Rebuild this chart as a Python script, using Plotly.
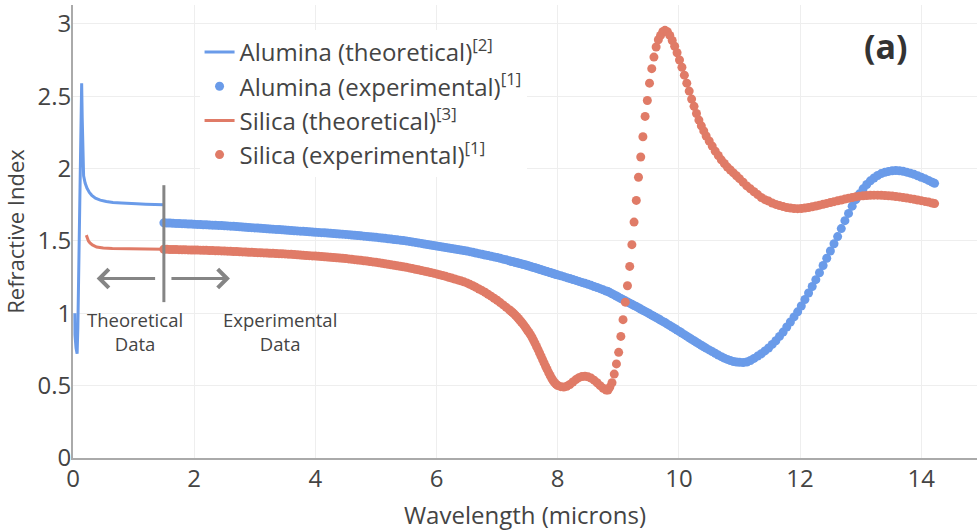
import plotly.graph_objects as go

# ---------------- data ----------------
wavelength_alumina_theo = [0.030, 0.033, 0.05, 0.068, 0.08, 0.10, 0.12, 0.135, 0.143, 0.152,
                           0.162, 0.175, 0.20, 0.23, 0.27, 0.31, 0.37, 0.45, 0.55, 0.66,
                           0.8, 0.95, 1.05, 1.2, 1.35, 1.5]
alumina_theo = [1.00, 0.85, 0.76, 0.72, 0.90, 1.45, 2.05, 2.45, 2.59, 2.35,
                2.05, 1.95, 1.90, 1.865, 1.835, 1.815, 1.795, 1.782, 1.772, 1.765,
                1.762, 1.757, 1.757, 1.754, 1.751, 1.75]

wavelength_silica_theo = [0.22, 0.235, 0.255, 0.28, 0.32, 0.39, 0.5, 0.65, 0.9, 1.2, 1.5]
silica_theo = [1.54, 1.52, 1.50, 1.486, 1.472, 1.458, 1.451, 1.447, 1.445, 1.444, 1.443]

wavelength_exp = [
    1.50, 1.55, 1.60, 1.65, 1.70, 1.75, 1.80, 1.85, 1.90, 1.95,
    2.00, 2.05, 2.10, 2.15, 2.20, 2.25, 2.30, 2.35, 2.40, 2.45,
    2.50, 2.55, 2.60, 2.65, 2.70, 2.75, 2.80, 2.85, 2.90, 2.95,
    3.00, 3.05, 3.10, 3.15, 3.20, 3.25, 3.30, 3.35, 3.40, 3.45,
    3.50, 3.55, 3.60, 3.65, 3.70, 3.75, 3.80, 3.85, 3.90, 3.95,
    4.00, 4.05, 4.10, 4.15, 4.20, 4.25, 4.30, 4.35, 4.40, 4.45,
    4.50, 4.55, 4.60, 4.65, 4.70, 4.75, 4.80, 4.85, 4.90, 4.95,
    5.00, 5.05, 5.10, 5.15, 5.20, 5.25, 5.30, 5.35, 5.40, 5.45,
    5.50, 5.55, 5.60, 5.65, 5.70, 5.75, 5.80, 5.85, 5.90, 5.95,
    6.00, 6.05, 6.10, 6.15, 6.20, 6.25, 6.30, 6.35, 6.40, 6.45,
    6.50, 6.55, 6.60, 6.65, 6.70, 6.75, 6.80, 6.85, 6.90, 6.95,
    7.00, 7.05, 7.10, 7.15, 7.20,
    7.225, 7.25, 7.275, 7.3, 7.325, 7.35, 7.375, 7.4,
    7.425, 7.45, 7.475, 7.5, 7.525, 7.55, 7.575, 7.6,
    7.625, 7.65, 7.675, 7.7, 7.725, 7.75, 7.775, 7.8,
    7.825, 7.85, 7.875, 7.9, 7.925, 7.95, 7.975, 8.0,
    8.05, 8.1, 8.15, 8.2, 8.25, 8.3, 8.35, 8.4,
    8.45, 8.5, 8.55, 8.6, 8.65, 8.7, 8.75, 8.8, 8.83,
    8.86, 8.896, 8.933, 8.969, 9.006, 9.042, 9.078, 9.115, 9.151,
    9.188, 9.224, 9.26, 9.297, 9.333, 9.37, 9.406, 9.442, 9.479,
    9.515, 9.552, 9.588, 9.624, 9.661, 9.697, 9.734, 9.77,
    9.81, 9.85, 9.89, 9.93, 9.97, 10.01, 10.05, 10.09, 10.13,
    10.17, 10.21, 10.25, 10.29, 10.33, 10.37, 10.41, 10.45,
    10.5, 10.55, 10.6, 10.65, 10.7, 10.75, 10.8, 10.85, 10.9, 10.95, 11.0,
    11.06, 11.12, 11.18, 11.24, 11.3, 11.36, 11.42, 11.48, 11.54, 11.6,
    11.66, 11.72, 11.78, 11.84, 11.9, 11.96, 12.02, 12.08, 12.14, 12.2,
    12.26, 12.32, 12.38, 12.44, 12.5, 12.56, 12.62, 12.68, 12.74, 12.8,
    12.86, 12.92, 12.98, 13.04, 13.1, 13.16, 13.22, 13.28, 13.34, 13.4,
    13.46, 13.52, 13.58, 13.64, 13.7, 13.76, 13.82, 13.88, 13.94, 14.0,
    14.06, 14.12, 14.18, 14.22,
]

alumina_exp = [
    1.625, 1.624, 1.623, 1.622, 1.621, 1.620, 1.619, 1.618, 1.617, 1.616,
    1.615, 1.614, 1.613, 1.612, 1.611, 1.610, 1.609, 1.608, 1.607, 1.606,
    1.605, 1.6035, 1.602, 1.6005, 1.599, 1.5975, 1.596, 1.5945, 1.593, 1.5915,
    1.590, 1.5885, 1.587, 1.5855, 1.584, 1.5825, 1.581, 1.5795, 1.578, 1.5765,
    1.575, 1.5735, 1.572, 1.5705, 1.569, 1.5675, 1.566, 1.5645, 1.563, 1.5615,
    1.560, 1.5585, 1.557, 1.5555, 1.554, 1.5525, 1.551, 1.5495, 1.548, 1.5465,
    1.545, 1.543, 1.541, 1.539, 1.537, 1.535, 1.533, 1.531, 1.529, 1.527,
    1.525, 1.5225, 1.520, 1.5175, 1.515, 1.5125, 1.510, 1.5075, 1.505, 1.5025,
    1.500, 1.4965, 1.493, 1.4895, 1.486, 1.4825, 1.479, 1.4755, 1.472, 1.4685,
    1.465, 1.4615, 1.458, 1.4545, 1.451, 1.4475, 1.444, 1.4405, 1.437, 1.4335,
    1.430, 1.4255, 1.421, 1.4165, 1.412, 1.4075, 1.403, 1.3985, 1.394, 1.3895,
    1.385, 1.380, 1.374, 1.369, 1.363,
    1.360, 1.358, 1.355, 1.352, 1.349, 1.347, 1.344, 1.341,
    1.338, 1.336, 1.333, 1.330, 1.327, 1.324, 1.320, 1.317,
    1.314, 1.311, 1.307, 1.304, 1.301, 1.298, 1.294, 1.291,
    1.288, 1.284, 1.281, 1.278, 1.275, 1.271, 1.268, 1.265,
    1.259, 1.253, 1.246, 1.240, 1.233, 1.227, 1.220, 1.213,
    1.207, 1.200, 1.193, 1.185, 1.178, 1.170, 1.162, 1.154, 1.150,
    1.143, 1.135, 1.127, 1.119, 1.110, 1.102, 1.094, 1.086, 1.078,
    1.070, 1.062, 1.054, 1.046, 1.038, 1.029, 1.021, 1.013, 1.004,
    0.996, 0.987, 0.979, 0.970, 0.962, 0.953, 0.944, 0.936,
    0.925, 0.915, 0.905, 0.895, 0.884, 0.874, 0.863, 0.852, 0.842,
    0.831, 0.820, 0.810, 0.799, 0.789, 0.779, 0.769, 0.759,
    0.747, 0.735, 0.723, 0.711, 0.700, 0.690, 0.681, 0.673, 0.667, 0.663, 0.661,
    0.660, 0.663, 0.674, 0.688, 0.704, 0.720, 0.740, 0.760, 0.785, 0.810,
    0.840, 0.870, 0.905, 0.940, 0.975, 1.010, 1.050, 1.095, 1.140, 1.185,
    1.232, 1.280, 1.330, 1.380, 1.430, 1.480, 1.530, 1.585, 1.640, 1.690,
    1.740, 1.785, 1.825, 1.860, 1.890, 1.915, 1.935, 1.952, 1.965, 1.974,
    1.980, 1.984, 1.986, 1.985, 1.981, 1.975, 1.968, 1.960, 1.950, 1.940,
    1.930, 1.918, 1.906, 1.898,
]

silica_exp = [
    1.442, 1.4415, 1.441, 1.4405, 1.440, 1.4395, 1.439, 1.4385, 1.438, 1.4375,
    1.437, 1.4365, 1.436, 1.4355, 1.435, 1.434, 1.433, 1.4325, 1.432, 1.431,
    1.430, 1.429, 1.428, 1.427, 1.426, 1.425, 1.424, 1.423, 1.422, 1.421,
    1.420, 1.419, 1.418, 1.417, 1.416, 1.415, 1.414, 1.413, 1.412, 1.411,
    1.410, 1.4085, 1.407, 1.4055, 1.404, 1.4025, 1.401, 1.3995, 1.398, 1.3965,
    1.395, 1.3935, 1.392, 1.3905, 1.389, 1.387, 1.385, 1.3835, 1.382, 1.380,
    1.378, 1.3755, 1.373, 1.3705, 1.368, 1.3655, 1.363, 1.3605, 1.358, 1.355,
    1.352, 1.349, 1.346, 1.3425, 1.339, 1.3355, 1.332, 1.3285, 1.325, 1.3215,
    1.318, 1.3135, 1.309, 1.3045, 1.300, 1.2955, 1.291, 1.2865, 1.282, 1.277,
    1.272, 1.2665, 1.261, 1.255, 1.249, 1.243, 1.237, 1.2305, 1.224, 1.217,
    1.210, 1.200, 1.190, 1.179, 1.168, 1.1565, 1.145, 1.1315, 1.118, 1.104,
    1.090, 1.074, 1.058, 1.041, 1.024,
    1.016, 1.007, 0.998, 0.987, 0.976, 0.964, 0.952, 0.940,
    0.927, 0.913, 0.898, 0.883, 0.868, 0.852, 0.834, 0.814,
    0.793, 0.771, 0.749, 0.726, 0.703, 0.680, 0.657, 0.634,
    0.612, 0.590, 0.570, 0.551, 0.534, 0.520, 0.509, 0.501,
    0.493, 0.490, 0.495, 0.508, 0.525, 0.542, 0.555, 0.563,
    0.565, 0.561, 0.552, 0.538, 0.520, 0.500, 0.482, 0.469, 0.470,
    0.49, 0.52, 0.58, 0.65, 0.73, 0.84, 0.956, 1.077, 1.19,
    1.324, 1.474, 1.63, 1.78, 1.94, 2.08, 2.22, 2.36, 2.47,
    2.59, 2.69, 2.77, 2.84, 2.89, 2.92, 2.945, 2.955,
    2.945, 2.92, 2.885, 2.845, 2.80, 2.75, 2.70, 2.645, 2.59,
    2.535, 2.48, 2.43, 2.38, 2.335, 2.295, 2.26, 2.225,
    2.19, 2.155, 2.12, 2.09, 2.06, 2.035, 2.01, 1.99, 1.97, 1.95, 1.93,
    1.905, 1.88, 1.86, 1.84, 1.82, 1.80, 1.785, 1.775, 1.762, 1.752,
    1.744, 1.737, 1.731, 1.727, 1.724, 1.723, 1.724, 1.727, 1.731, 1.736,
    1.741, 1.747, 1.753, 1.759, 1.765, 1.771, 1.777, 1.783, 1.789, 1.795,
    1.800, 1.805, 1.809, 1.812, 1.814, 1.815, 1.816, 1.816, 1.815, 1.814,
    1.812, 1.810, 1.807, 1.804, 1.800, 1.796, 1.792, 1.788, 1.783, 1.778,
    1.773, 1.768, 1.762, 1.758,
]

series_names = [
    "Alumina (theoretical)<sup>[2]</sup>",
    "Alumina (experimental)<sup>[1]</sup>",
    "Silica (theoretical)<sup>[3]</sup>",
    "Silica (experimental)<sup>[1]</sup>",
]

x_ticks = [0, 2, 4, 6, 8, 10, 12, 14]
y_ticks = [0, 0.5, 1, 1.5, 2, 2.5, 3]

# ---------------- styling ----------------
BLUE = "#6a9be9"
RED = "#e07b67"
GRAY = "#858585"
TEXT = "#444444"
FONT = "Open Sans"

fig = go.Figure()
fig.add_trace(go.Scatter(x=wavelength_alumina_theo, y=alumina_theo, mode="lines",
                         name=series_names[0], line=dict(color=BLUE, width=3)))
fig.add_trace(go.Scatter(x=wavelength_exp, y=alumina_exp, mode="markers",
                         name=series_names[1], marker=dict(color=BLUE, size=9)))
fig.add_trace(go.Scatter(x=wavelength_silica_theo, y=silica_theo, mode="lines",
                         name=series_names[2], line=dict(color=RED, width=3)))
fig.add_trace(go.Scatter(x=wavelength_exp, y=silica_exp, mode="markers",
                         name=series_names[3], marker=dict(color=RED, size=9)))

# divider between theoretical and experimental data
fig.add_shape(type="line", xref="x", yref="y", x0=1.5, x1=1.5, y0=1.077, y1=1.885,
              line=dict(color=GRAY, width=3))

# arrows
fig.add_annotation(x=0.39, y=1.24, ax=1.38, ay=1.24, xref="x", yref="y",
                   axref="x", ayref="y", text="", showarrow=True,
                   arrowhead=4, arrowsize=1.2, arrowwidth=3, arrowcolor=GRAY)
fig.add_annotation(x=2.59, y=1.24, ax=1.6, ay=1.24, xref="x", yref="y",
                   axref="x", ayref="y", text="", showarrow=True,
                   arrowhead=4, arrowsize=1.2, arrowwidth=3, arrowcolor=GRAY)

fig.add_annotation(x=1.02, y=0.875, xref="x", yref="y", text="Theoretical<br>Data",
                   showarrow=False, font=dict(family=FONT, size=18.5, color=TEXT))
fig.add_annotation(x=3.41, y=0.875, xref="x", yref="y", text="Experimental<br>Data",
                   showarrow=False, font=dict(family=FONT, size=18.5, color=TEXT))
fig.add_annotation(x=13.42, y=2.85, xref="x", yref="y", text="<b>(a)</b>",
                   showarrow=False, font=dict(family=FONT, size=34, color="#333333"))

fig.update_layout(
    width=977, height=531,
    margin=dict(l=73, r=0, t=5, b=73),
    paper_bgcolor="white", plot_bgcolor="white",
    font=dict(family=FONT, size=24, color=TEXT),
    showlegend=True,
    legend=dict(x=0.14, y=0.945, xanchor="left", yanchor="top",
                bgcolor="rgba(255,255,255,1)", font=dict(family=FONT, size=24, color=TEXT),
                tracegroupgap=0),
    xaxis=dict(range=[0, 14.92], tickvals=x_ticks, showgrid=True, gridcolor="#eeeeee",
               gridwidth=1, zeroline=False, showline=True, linecolor="#aaaaaa", linewidth=2,
               ticks="", ticklabelstandoff=-2, tickfont=dict(family=FONT, size=24, color=TEXT),
               title=dict(text="Wavelength (microns)", standoff=14,
                          font=dict(family=FONT, size=24, color=TEXT))),
    yaxis=dict(range=[0, 3.13], tickvals=y_ticks, showgrid=True, gridcolor="#eeeeee",
               gridwidth=1, zeroline=False, showline=True, linecolor="#aaaaaa", linewidth=2,
               ticks="", ticklabelstandoff=-5, tickfont=dict(family=FONT, size=24, color=TEXT),
               title=dict(text="Refractive Index", font=dict(family=FONT, size=22, color=TEXT))),
)

fig.write_html("out.html")
